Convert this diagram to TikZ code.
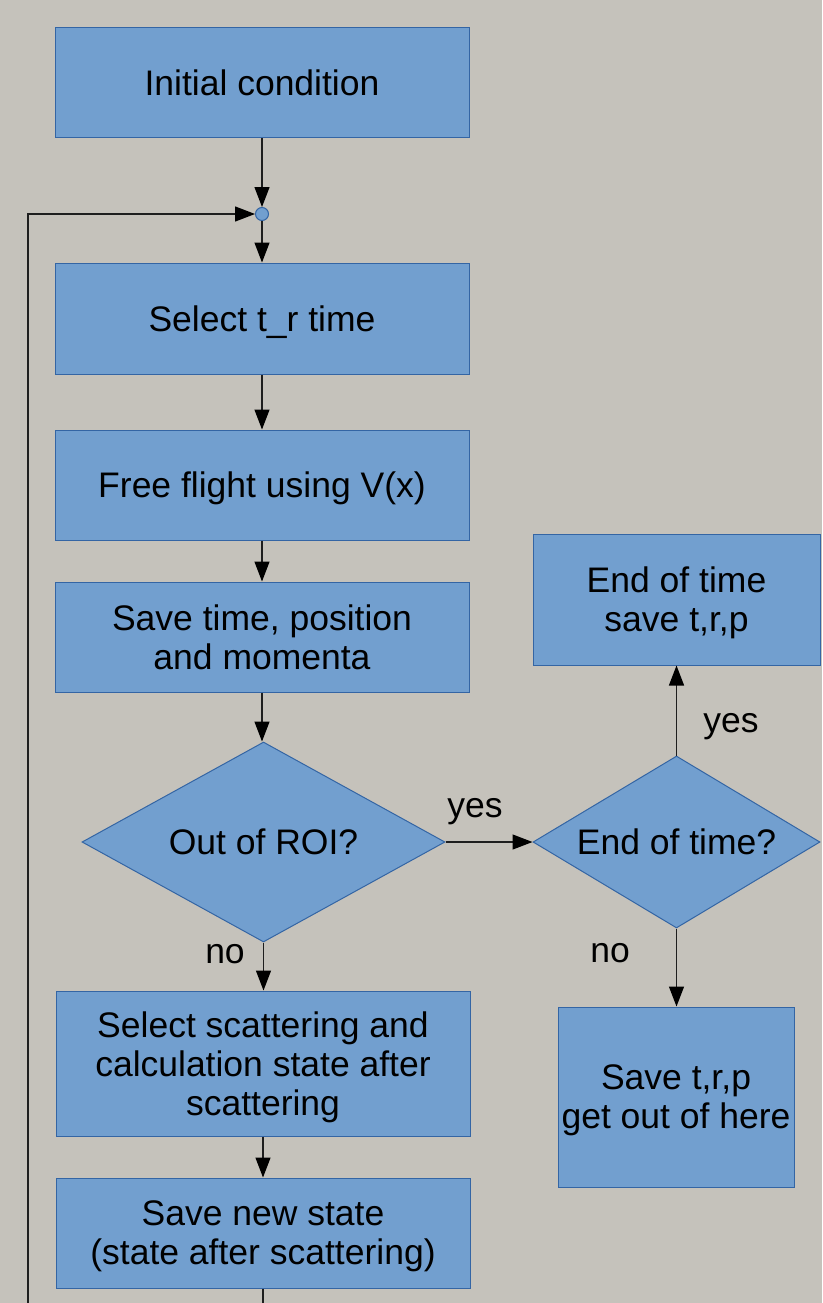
\documentclass[tikz,border=0pt]{standalone}
\usepackage{fontspec}
\setmainfont{Liberation Sans}
\usetikzlibrary{shapes.geometric,arrows.meta}
\definecolor{bgc}{RGB}{197,194,187}
\definecolor{boxfill}{RGB}{114,159,207}
\definecolor{boxline}{RGB}{52,101,164}
\definecolor{linec}{RGB}{30,30,30}
\tikzset{
  x=1pt,y=-1pt,
  every node/.style={font=\fontsize{35.5}{39}\selectfont},
  procbox/.style={draw=boxline,line width=1pt,fill=boxfill,rectangle,inner sep=0pt,align=center,text depth=0pt},
  decide/.style={draw=boxline,line width=1pt,fill=boxfill,diamond,shape aspect=1.67,inner sep=0pt,align=center,text depth=0pt},
  junct/.style={draw=boxline,line width=1pt,fill=boxfill,circle,inner sep=0pt,minimum size=13pt},
  conn/.style={draw=linec,line width=1.3pt,-{Triangle[length=20pt,width=15pt,color=black]}},
  plainline/.style={draw=linec,line width=1.3pt},
  lbl/.style={inner sep=0pt}
}
\begin{document}
\begin{tikzpicture}
\fill[bgc] (0,0) rectangle (822,1303);
\useasboundingbox (0,0) rectangle (822,1303);
\node[procbox,minimum width=414pt,minimum height=110pt] (b1) at (262,83) {Initial condition};
\node[junct] (j) at (262,214) {};
\node[procbox,minimum width=414pt,minimum height=111pt] (b2) at (262,318.5) {Select t\_r time};
\node[procbox,minimum width=414pt,minimum height=110pt] (b3) at (262,485) {Free flight using V(x)};
\node[procbox,minimum width=414pt,minimum height=110pt] (b4) at (262,637) {Save time, position\\ and momenta};
\node[decide,minimum width=363pt,minimum height=200pt] (d1) at (263.5,842) {Out of ROI?};
\node[decide,minimum width=287pt,minimum height=172pt] (d2) at (676.5,842) {End of time?};
\node[procbox,minimum width=287pt,minimum height=131pt] (b5) at (676.5,599.5) {End of time\\save t,r,p};
\node[procbox,minimum width=236pt,minimum height=180pt] (b6) at (676,1097) {Save t,r,p\\get out of here};
\node[procbox,minimum width=414pt,minimum height=145pt] (b7) at (263,1063.5) {Select scattering and\\calculation state after\\scattering};
\node[procbox,minimum width=414pt,minimum height=110pt] (b8) at (263,1233) {Save new state\\(state after scattering)};
\coordinate (loopb) at (28,1303);
\coordinate (loopt) at (28,214);
\coordinate (bot) at (263,1303);
\node[lbl] (lyes1) at (475,811.5) {yes};
\node[lbl] (lno1) at (225,954) {no};
\node[lbl] (lno2) at (610,953.5) {no};
\node[lbl] (lyes2) at (731,726.5) {yes};
\draw[conn] (b1.south) -- (j.north);
\draw[conn] (j.south) -- (b2.north);
\draw[conn] (loopb) -- (loopt) -- (j.west);
\draw[conn] (b2.south) -- (b3.north);
\draw[conn] (b3.south) -- (b4.north);
\draw[conn] (b4.south) -- (b4.south |- d1.north);
\draw[conn] (d1.east) -- (d2.west);
\draw[conn] (d2.north) -- (b5.south);
\draw[conn] (d2.south) -- (d2.south |- b6.north);
\draw[conn] (d1.south) -- (d1.south |- b7.north);
\draw[conn] (b7.south) -- (b7.south |- b8.north);
\draw[plainline] (b8.south) -- (bot);
\end{tikzpicture}
\end{document}
